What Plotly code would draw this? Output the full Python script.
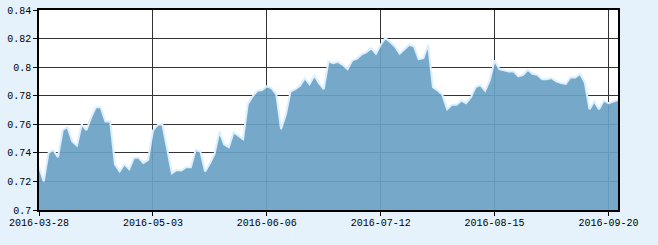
import pandas as pd
import plotly.graph_objects as go

# Trading-day calendar (Chinese market holidays excluded)
holidays = ["2016-04-04", "2016-05-02", "2016-06-09", "2016-06-10",
            "2016-09-15", "2016-09-16"]
dates = [d.strftime("%Y-%m-%d") for d in
         pd.bdate_range("2016-03-28", "2016-09-22", freq="C", holidays=holidays)]

values = [
    0.730, 0.720, 0.740, 0.742, 0.737, 0.756, 0.758, 0.748, 0.745, 0.760,
    0.756, 0.765, 0.772, 0.772, 0.762, 0.762, 0.732, 0.727, 0.732, 0.7285,
    0.7365, 0.7365, 0.733, 0.735, 0.7556, 0.7596, 0.760, 0.744, 0.7257, 0.728,
    0.7276, 0.730, 0.730, 0.742, 0.741, 0.727, 0.7325, 0.7395, 0.755, 0.746,
    0.744, 0.7545, 0.752, 0.7495, 0.7743, 0.7795, 0.7834, 0.784, 0.7865, 0.7853,
    0.781, 0.7566, 0.7666, 0.783, 0.7846, 0.787, 0.7923, 0.788, 0.794, 0.7888,
    0.7846, 0.804, 0.8028, 0.8037, 0.8016, 0.7986, 0.8047, 0.806, 0.809, 0.8105,
    0.8133, 0.8094, 0.8157, 0.8204, 0.8176, 0.8145, 0.8094, 0.8126, 0.8157, 0.8145,
    0.8056, 0.8063, 0.8157, 0.786, 0.7837, 0.7806, 0.7705, 0.7736, 0.7736, 0.7766,
    0.7748, 0.779, 0.786, 0.7874, 0.7834, 0.7911, 0.8046, 0.7986, 0.7977, 0.797,
    0.797, 0.7935, 0.7946, 0.7981, 0.7953, 0.7946, 0.7916, 0.7916, 0.7923, 0.790,
    0.7888, 0.7883, 0.793, 0.7928, 0.7953, 0.7893, 0.7705, 0.776, 0.7705, 0.7766,
    0.7748, 0.776, 0.7771,
]

tick_step = 24
x_idx = list(range(len(values)))
tickvals = x_idx[::tick_step]
ticktext = [dates[i] for i in tickvals]

fig = go.Figure()
fig.add_trace(go.Scatter(
    x=x_idx, y=values, mode="lines", fill="tozeroy",
    line=dict(color="#dcefff", width=2),
    fillcolor="rgba(106,162,196,0.92)",
    hoverinfo="skip",
))

font = dict(family="Liberation Mono, DejaVu Sans Mono, monospace", size=10, color="#000")
fig.update_layout(
    width=658, height=245,
    margin=dict(l=39, r=40, t=10, b=35),
    paper_bgcolor="#e6f2fb", plot_bgcolor="#ffffff",
    showlegend=False, font=font,
)
fig.update_xaxes(
    range=[0, len(values) - 1], tickvals=tickvals, ticktext=ticktext,
    showgrid=True, gridcolor="#333333", gridwidth=1,
    showline=True, linecolor="#000", linewidth=1.5, mirror=True,
    ticks="outside", ticklen=4, tickcolor="#000", zeroline=False,
    automargin=False, ticklabelstandoff=-2,
)
fig.update_yaxes(
    range=[0.7, 0.84], dtick=0.02, tick0=0.7,
    showgrid=True, gridcolor="#333333", gridwidth=1,
    showline=True, linecolor="#000", linewidth=1.5, mirror=True,
    ticks="outside", ticklen=4, tickcolor="#000", zeroline=False,
    automargin=False,
)
fig.write_html("out.html")
